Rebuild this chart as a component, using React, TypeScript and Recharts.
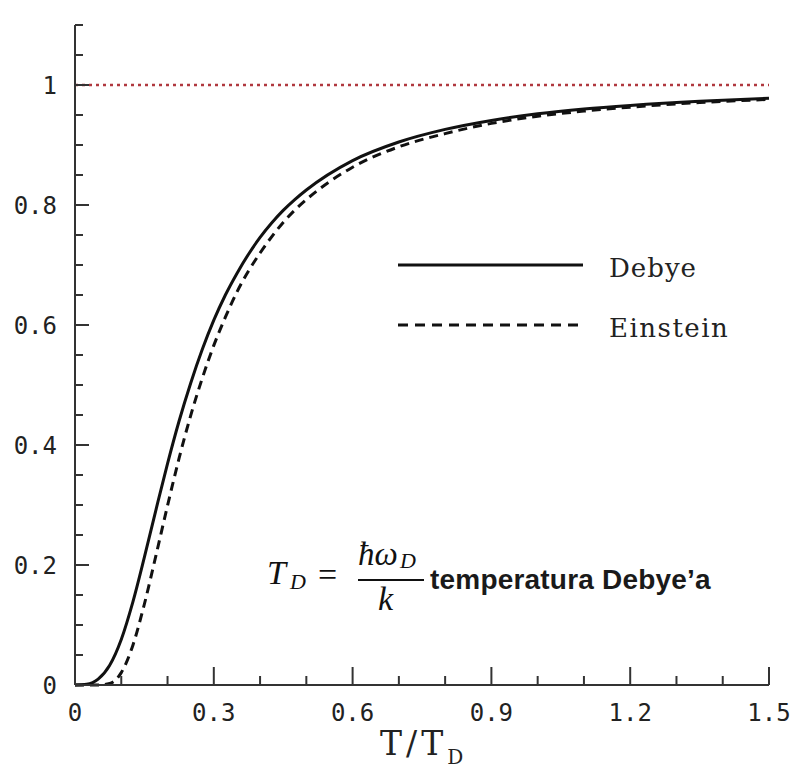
import { LineChart, Line, XAxis, YAxis, ReferenceLine, Legend, Customized } from "recharts";

// T / T_D sample points
const temps = [0, 0.025, 0.05, 0.075, 0.1, 0.125, 0.15, 0.175, 0.2, 0.225, 0.25, 0.275, 0.3, 0.325, 0.35, 0.375, 0.4, 0.425, 0.45, 0.475, 0.5, 0.6, 0.7, 0.8, 0.9, 1.0, 1.1, 1.2, 1.35, 1.5];
const debye = [0, 0.0012, 0.0097, 0.0328, 0.0758, 0.138, 0.213, 0.292, 0.369, 0.44, 0.503, 0.559, 0.608, 0.65, 0.686, 0.718, 0.746, 0.77, 0.791, 0.809, 0.825, 0.874, 0.905, 0.926, 0.941, 0.952, 0.96, 0.966, 0.973, 0.978];
const einstein = [0, 0, 0, 0.0025, 0.0206, 0.066, 0.135, 0.216, 0.299, 0.378, 0.449, 0.511, 0.566, 0.613, 0.655, 0.69, 0.72, 0.747, 0.771, 0.7915, 0.809, 0.863, 0.897, 0.919, 0.936, 0.948, 0.9565, 0.963, 0.9708, 0.976];

const xTicks = [0, 0.1, 0.2, 0.3, 0.4, 0.5, 0.6, 0.7, 0.8, 0.9, 1.0, 1.1, 1.2, 1.3, 1.4, 1.5];
const xLabelTicks = [0, 0.3, 0.6, 0.9, 1.2, 1.5];
const xLabelTexts = ["0", "0.3", "0.6", "0.9", "1.2", "1.5"];

const yTicks = [0, 0.05, 0.1, 0.15, 0.2, 0.25, 0.3, 0.35, 0.4, 0.45, 0.5, 0.55, 0.6, 0.65, 0.7, 0.75, 0.8, 0.85, 0.9, 0.95, 1.0, 1.05, 1.1];
const yLabelTicks = [0, 0.2, 0.4, 0.6, 0.8, 1];
const yLabelTexts = ["0", "0.2", "0.4", "0.6", "0.8", "1"];

const seriesNames = ["Debye", "Einstein"];

const data = temps.map((t, i) => ({ t, debye: debye[i], einstein: einstein[i] }));

const AXIS = "#333";
const INK = "#111";
const TICK_FONT = "'DejaVu Sans Mono', monospace";
const SERIF = "'DejaVu Serif', serif";
const MATH = "'Liberation Serif', 'DejaVu Serif', serif";

function findLabel(list: number[], v: number) {
  return list.findIndex((t) => Math.abs(t - v) < 1e-6);
}

function XTick({ x, y, payload }: any) {
  const i = findLabel(xLabelTicks, payload.value);
  const major = i >= 0;
  return (
    <g>
      <line x1={x} x2={x} y1={y} y2={y - (major ? 18 : 9)} stroke={AXIS} strokeWidth={2} />
      {major && (
        <text x={x} y={y + 36} textAnchor="middle" fontFamily={TICK_FONT} fontSize={24} fill="#222">
          {xLabelTexts[i]}
        </text>
      )}
    </g>
  );
}

function YTick({ x, y, payload }: any) {
  const i = findLabel(yLabelTicks, payload.value);
  const major = i >= 0;
  return (
    <g>
      <line x1={x} x2={x + (major ? 14 : 8)} y1={y} y2={y} stroke={AXIS} strokeWidth={2} />
      {major && (
        <text x={x - 18} y={y + 9} textAnchor="end" fontFamily={TICK_FONT} fontSize={24} fill="#222">
          {yLabelTexts[i]}
        </text>
      )}
    </g>
  );
}

function LegendBox() {
  return (
    <svg width={360} height={100}>
      <line x1={0} x2={185} y1={17} y2={17} stroke={INK} strokeWidth={3} />
      <text x={211} y={29} fontFamily={SERIF} fontSize={26} fill="#222" letterSpacing={1}>
        {seriesNames[0]}
      </text>
      <line x1={0} x2={185} y1={77} y2={77} stroke={INK} strokeWidth={3} strokeDasharray="10 7" />
      <text x={211} y={89} fontFamily={SERIF} fontSize={26} fill="#222" letterSpacing={1.5}>
        {seriesNames[1]}
      </text>
    </svg>
  );
}

function Annotations() {
  return (
    <g>
      {/* axis title */}
      <text x={380} y={755} fontFamily={SERIF} fontSize={33} fill="#222" letterSpacing={4}>
        T/T
        <tspan dy={9} fontSize={20} letterSpacing={0}>D</tspan>
      </text>
      {/* T_D = ħω_D / k */}
      <text x={267} y={584} fontFamily={MATH} fontStyle="italic" fontSize={34} fill={INK}>
        T
      </text>
      <text x={290} y={589} fontFamily={MATH} fontStyle="italic" fontSize={22} fill={INK}>
        D
      </text>
      <text x={318} y={586} fontFamily={MATH} fontSize={34} fill={INK}>
        =
      </text>
      <text x={358} y={565} fontFamily={MATH} fontStyle="italic" fontSize={33} fill={INK}>
        ħω
      </text>
      <text x={400} y={568} fontFamily={MATH} fontStyle="italic" fontSize={22} fill={INK}>
        D
      </text>
      <line x1={358} x2={424} y1={580} y2={580} stroke={INK} strokeWidth={2} />
      <text x={378} y={610} fontFamily={MATH} fontStyle="italic" fontSize={34} fill={INK}>
        k
      </text>
      <text x={430} y={589} fontFamily="'Liberation Sans', Arial, sans-serif" fontWeight="bold" fontSize={28} fill="#1a1a1a" letterSpacing={0.2}>
        temperatura Debye’a
      </text>
    </g>
  );
}

export default function App() {
  return (
    <div style={{ position: "absolute", left: 0, top: 0, width: 796, height: 781, background: "#fff" }}>
      <LineChart width={796} height={781} data={data} margin={{ top: 25, right: 27, bottom: 0, left: 15 }}>
        <XAxis
          dataKey="t"
          type="number"
          domain={[0, 1.5]}
          ticks={xTicks}
          interval={0}
          height={96}
          tickSize={0}
          tickMargin={0}
          tickLine={false}
          axisLine={{ stroke: AXIS, strokeWidth: 2 }}
          tick={<XTick />}
        />
        <YAxis
          type="number"
          domain={[0, 1.1]}
          ticks={yTicks}
          interval={0}
          width={60}
          tickSize={0}
          tickMargin={0}
          tickLine={false}
          axisLine={{ stroke: AXIS, strokeWidth: 2 }}
          tick={<YTick />}
        />
        <ReferenceLine y={1} stroke="#b0383f" strokeWidth={2.5} strokeDasharray="3 4" />
        <Line
          type="monotone"
          dataKey="debye"
          name={seriesNames[0]}
          stroke={INK}
          strokeWidth={3}
          dot={false}
          isAnimationActive={false}
        />
        <Line
          type="monotone"
          dataKey="einstein"
          name={seriesNames[1]}
          stroke={INK}
          strokeWidth={3}
          strokeDasharray="9 6"
          dot={false}
          isAnimationActive={false}
        />
        <Legend
          layout="vertical"
          align="center"
          verticalAlign="middle"
          content={<LegendBox />}
          wrapperStyle={{ left: 398, top: 248, width: 360 }}
        />
        <Customized component={<Annotations />} />
      </LineChart>
    </div>
  );
}
